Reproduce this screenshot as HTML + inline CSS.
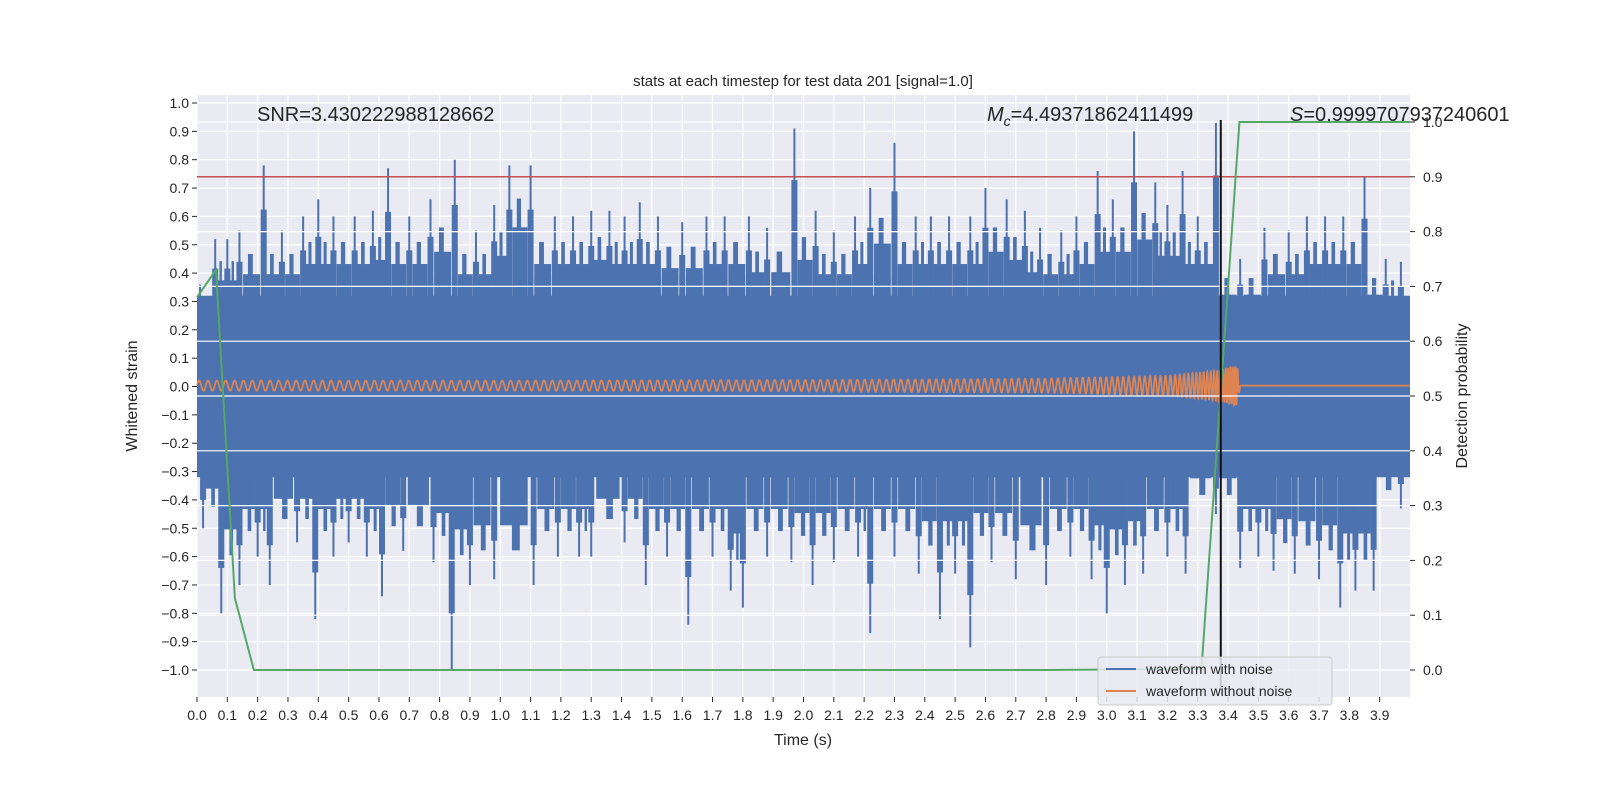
<!DOCTYPE html>
<html><head><meta charset="utf-8"><style>
body{margin:0;background:#fff}
svg{display:block;font-family:"Liberation Sans","DejaVu Sans",sans-serif}
</style></head><body>
<svg id="c" width="1600" height="800" xmlns="http://www.w3.org/2000/svg"></svg>
<script>
// ---- data ----
const xTicks=[0.0,0.1,0.2,0.3,0.4,0.5,0.6,0.7,0.8,0.9,1.0,1.1,1.2,1.3,1.4,1.5,1.6,1.7,1.8,1.9,2.0,2.1,2.2,2.3,2.4,2.5,2.6,2.7,2.8,2.9,3.0,3.1,3.2,3.3,3.4,3.5,3.6,3.7,3.8,3.9];
const yTicks=[-1.0,-0.9,-0.8,-0.7,-0.6,-0.5,-0.4,-0.3,-0.2,-0.1,0.0,0.1,0.2,0.3,0.4,0.5,0.6,0.7,0.8,0.9,1.0];
const y2Ticks=[0.0,0.1,0.2,0.3,0.4,0.5,0.6,0.7,0.8,0.9,1.0];
const topT=[0.01,0.06,0.1,0.14,0.22,0.28,0.35,0.4,0.45,0.52,0.58,0.63,0.7,0.77,0.85,0.92,0.98,1.03,1.1,1.18,1.24,1.3,1.36,1.41,1.46,1.52,1.6,1.68,1.74,1.82,1.88,1.97,2.04,2.1,2.17,2.22,2.3,2.37,2.42,2.48,2.55,2.6,2.67,2.73,2.78,2.85,2.9,2.97,3.02,3.09,3.16,3.2,3.25,3.3,3.36,3.44,3.52,3.6,3.66,3.72,3.78,3.85,3.92,3.97];
const topV=[0.36,0.52,0.52,0.55,0.78,0.55,0.6,0.66,0.6,0.6,0.62,0.77,0.6,0.66,0.8,0.55,0.64,0.78,0.78,0.6,0.6,0.62,0.62,0.6,0.65,0.6,0.58,0.6,0.6,0.6,0.56,0.91,0.62,0.55,0.6,0.7,0.86,0.6,0.6,0.6,0.6,0.7,0.66,0.62,0.56,0.55,0.6,0.76,0.66,0.9,0.72,0.64,0.76,0.6,0.93,0.45,0.56,0.55,0.6,0.6,0.6,0.74,0.45,0.44];
const botT=[0.02,0.08,0.14,0.2,0.24,0.33,0.39,0.45,0.5,0.56,0.61,0.68,0.78,0.84,0.9,0.98,1.11,1.19,1.26,1.3,1.41,1.48,1.55,1.62,1.7,1.76,1.8,1.88,1.96,2.03,2.1,2.18,2.22,2.3,2.38,2.45,2.5,2.55,2.62,2.7,2.8,2.88,2.95,3.0,3.06,3.12,3.2,3.26,3.36,3.44,3.5,3.55,3.62,3.7,3.77,3.82,3.88,3.97];
const botV=[-0.5,-0.8,-0.7,-0.6,-0.7,-0.55,-0.82,-0.6,-0.55,-0.6,-0.74,-0.58,-0.62,-1.0,-0.7,-0.68,-0.7,-0.6,-0.6,-0.6,-0.55,-0.7,-0.6,-0.84,-0.6,-0.72,-0.78,-0.6,-0.62,-0.7,-0.62,-0.6,-0.87,-0.6,-0.66,-0.82,-0.66,-0.92,-0.62,-0.68,-0.7,-0.6,-0.68,-0.8,-0.7,-0.66,-0.6,-0.66,-0.45,-0.64,-0.6,-0.65,-0.66,-0.68,-0.78,-0.72,-0.72,-0.43];
const coreLevel=[0.32,-0.32];
const probT=[0,0.0625,0.125,0.1875,2.8,3.3125,3.4375,4.0];
const probV=[0.68,0.73,0.131,0.0,0.0,0.002,1.0,1.0];
const chirpT=[0,1,2,2.8,3.2,3.35,3.43,3.44,4.0];
const chirpF=[34,36,40,46,60,90,140,0,0];
const chirpA=[0.018,0.018,0.02,0.025,0.035,0.05,0.07,0.0,0.0];
const threshold=[0.9];
const mergerT=[3.376];
// ---- axes ----
const L=197,R=1410,T=95,B=697;
const X=t=>L+(t-0)/(4.0)*(R-L);
const Y=v=>386.5-v*283.5;
const Y2=p=>670-p*548;
const NS="http://www.w3.org/2000/svg";
const svg=document.getElementById('c');
function el(tag,attrs,parent){const e=document.createElementNS(NS,tag);for(const k in attrs)e.setAttribute(k,attrs[k]);(parent||svg).appendChild(e);return e;}
function txt(s,attrs,parent){const e=el('text',attrs,parent);e.textContent=s;return e;}
function interp(ts,vs,t){for(let i=0;i<ts.length-1;i++){if(t>=ts[i]&&t<=ts[i+1]){const f=(t-ts[i])/(ts[i+1]-ts[i]||1);return vs[i]+(vs[i+1]-vs[i])*f;}}return vs[vs.length-1];}

const bg=el('rect',{x:L,y:T,width:R-L,height:B-T,fill:'#eaeaf2'});

const grid=el('g',{stroke:'#fff','stroke-width':1.2});

xTicks.forEach(t=>el('line',{x1:X(t),x2:X(t),y1:T,y2:B},grid));
yTicks.forEach(v=>el('line',{x1:L,x2:R,y1:Y(v),y2:Y(v)},grid));

// noise
const noise=el('g',{});

el('rect',{x:L,y:Y(coreLevel[0]),width:R-L,height:Y(coreLevel[1])-Y(coreLevel[0]),fill:'#4c72b0'},noise);
for(let i=0;i<topT.length-1;i++){const a=topT[i],b=topT[i+1];const v=Math.min(topV[i],topV[i+1]);
  const w=X(b)-X(a);
  el('rect',{x:X(a)+w*0.15,y:Y(v*0.72),width:w*0.7,height:Y(0)-Y(v*0.72),fill:'#4c72b0'},noise);
  el('rect',{x:X(a)+w*0.35,y:Y(v*0.85),width:w*0.2,height:Y(0)-Y(v*0.85),fill:'#4c72b0'},noise);}
for(let i=0;i<botT.length-1;i++){const a=botT[i],b=botT[i+1];const v=Math.max(botV[i],botV[i+1]);
  const w=X(b)-X(a);
  el('rect',{x:X(a)+w*0.15,y:Y(0),width:w*0.7,height:Y(v*0.72)-Y(0),fill:'#4c72b0'},noise);
  el('rect',{x:X(a)+w*0.45,y:Y(0),width:w*0.2,height:Y(v*0.85)-Y(0),fill:'#4c72b0'},noise);}
topT.forEach((t,i)=>{
  const s=el('line',{x1:X(t),x2:X(t),y1:Y(topV[i]),y2:Y(0),stroke:'#4c72b0','stroke-width':2},noise);
  el('rect',{x:X(t)-3,y:Y(topV[i]*0.8),width:6,height:Y(0)-Y(topV[i]*0.8),fill:'#4c72b0'},noise);});
botT.forEach((t,i)=>{
  const s=el('line',{x1:X(t),x2:X(t),y1:Y(0),y2:Y(botV[i]),stroke:'#4c72b0','stroke-width':2},noise);
  el('rect',{x:X(t)-3,y:Y(0),width:6,height:Y(botV[i]*0.8)-Y(0),fill:'#4c72b0'},noise);});

// chirp
let pts=[],ph=0,dt=0.0005;
for(let t=0;t<=4.0;t+=dt){const f=interp(chirpT,chirpF,t),a=interp(chirpT,chirpA,t);ph+=2*Math.PI*f*dt;pts.push(X(t).toFixed(1)+','+Y(a*Math.sin(ph)+0.003).toFixed(1));}
const ch=el('polyline',{points:pts.join(' '),fill:'none',stroke:'#dd8452','stroke-width':1.8});


// right-axis grid (twin, drawn on top)
const grid2=el('g',{stroke:'#fff','stroke-width':1.2});

y2Ticks.forEach(p=>el('line',{x1:L,x2:R,y1:Y2(p),y2:Y2(p)},grid2));

const th=el('line',{x1:L,x2:R,y1:Y2(threshold[0]),y2:Y2(threshold[0]),stroke:'#c44e52','stroke-width':1.5});

const pl=el('polyline',{points:probT.map((t,i)=>X(t)+','+Y2(probV[i])).join(' '),fill:'none',stroke:'#55a868','stroke-width':2});

const ml=el('line',{x1:X(mergerT[0]),x2:X(mergerT[0]),y1:Y2(1.0)-2,y2:690,stroke:'#111','stroke-width':2});


// tick labels
const tk=el('g',{fill:'#262626','font-size':14});

xTicks.forEach(t=>{el('line',{x1:X(t),x2:X(t),y1:B,y2:B+5,stroke:'#262626'},tk);txt(t.toFixed(1),{x:X(t),y:B+23,'text-anchor':'middle'},tk);});
yTicks.forEach(v=>{el('line',{x1:L-5,x2:L,y1:Y(v),y2:Y(v),stroke:'#262626'},tk);txt((v<0?'\u2212':'')+Math.abs(v).toFixed(1),{x:L-8,y:Y(v)+5,'text-anchor':'end'},tk);});
y2Ticks.forEach(p=>{el('line',{x1:R,x2:R+5,y1:Y2(p),y2:Y2(p),stroke:'#262626'},tk);txt(p.toFixed(1),{x:R+13,y:Y2(p)+5},tk);});

const a=(s,at,n)=>{const e=txt(s,at);return e;};
a('stats at each timestep for test data 201 [signal=1.0]',{x:803,y:86,'text-anchor':'middle','font-size':15,fill:'#262626'},'chart-title');
a('Time (s)',{x:803,y:745,'text-anchor':'middle','font-size':16,fill:'#262626'},'x-axis-title');
a('Whitened strain',{x:137,y:396,'text-anchor':'middle','font-size':16,fill:'#262626',transform:'rotate(-90 137 396)'},'y-axis-title');
a('Detection probability',{x:1467,y:396,'text-anchor':'middle','font-size':16,fill:'#262626',transform:'rotate(-90 1467 396)'},'right-axis-title');
a('SNR=3.430222988128662',{x:257,y:121,'font-size':20,fill:'#262626'},'snr-annotation');
const mc=a('',{x:987,y:121,'font-size':20,fill:'#262626'},'chirp-mass-annotation');
mc.innerHTML='<tspan font-style="italic">M</tspan><tspan font-style="italic" font-size="14" dy="5">c</tspan><tspan dy="-5">=4.49371862411499</tspan>';
const sa=a('',{x:1290,y:121,'font-size':20,fill:'#262626'},'detection-score-annotation');
sa.innerHTML='<tspan font-style="italic">S</tspan>=0.9999707937240601';

// legend
const lg=el('g',{});

el('rect',{x:1098,y:657,width:234,height:48,rx:3,fill:'#eaeaf2','fill-opacity':0.85,stroke:'#cccccc'},lg);
const e1=el('g',{},lg);
el('line',{x1:1106,x2:1136,y1:669,y2:669,stroke:'#4c72b0','stroke-width':2},e1);
txt('waveform with noise',{x:1146,y:674,'font-size':14,fill:'#262626'},e1);
const e2=el('g',{},lg);
el('line',{x1:1106,x2:1136,y1:691,y2:691,stroke:'#dd8452','stroke-width':2},e2);
txt('waveform without noise',{x:1146,y:696,'font-size':14,fill:'#262626'},e2);
</script>
</body></html>
